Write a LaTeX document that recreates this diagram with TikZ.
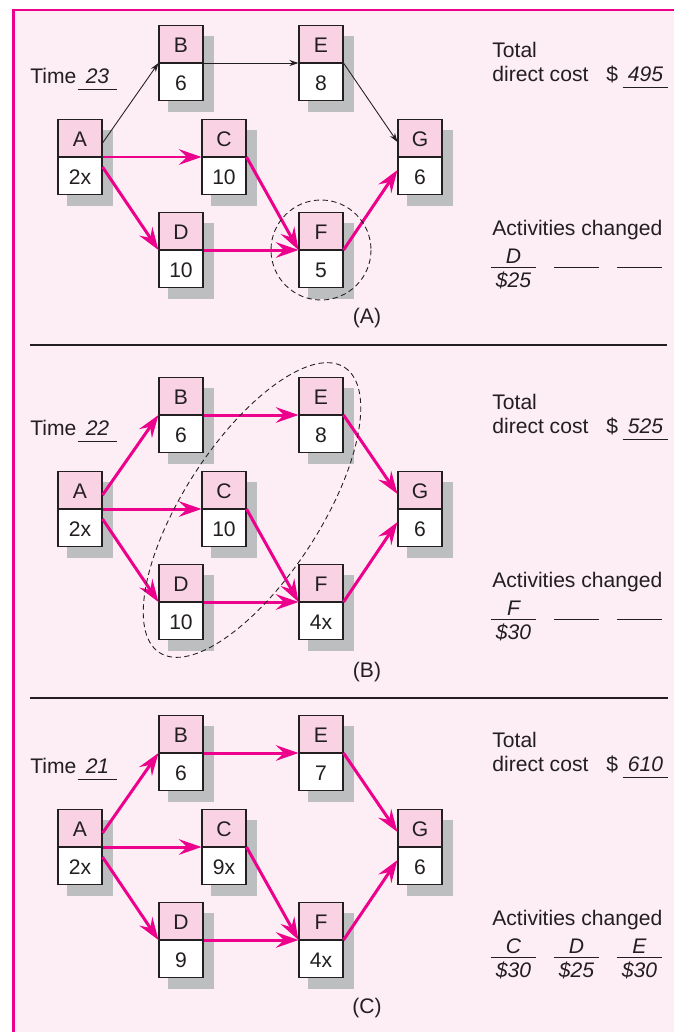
\documentclass[tikz,border=0pt]{standalone}
\usepackage{fontspec}
\setmainfont{Liberation Sans}
\usetikzlibrary{arrows.meta,backgrounds}
\definecolor{crit}{HTML}{EC008C}
\definecolor{panel}{HTML}{FDEDF4}
\definecolor{head}{HTML}{F9D3E4}
\definecolor{shadowgray}{HTML}{BCBEC0}
\definecolor{ink}{HTML}{231F20}

\begin{document}
\fontsize{12}{14}\selectfont
\begin{tikzpicture}[x=0.02cm, y=-0.02cm, text=ink,
  act/.style={draw=ink, line width=0.6pt, minimum width=0.88cm, inner xsep=0pt, inner ysep=0pt,
    text height=0.54cm, text depth=0.2cm},
  acthead/.style={act, fill=head, anchor=south},
  actdur/.style={act, fill=white, anchor=north},
  critarr/.style={-{Stealth[length=0.45cm,width=0.31cm,inset=0.16cm]}, crit, line width=1.7pt},
  thinarr/.style={-{Stealth[length=0.18cm,width=0.12cm]}, ink, line width=0.5pt},
  lbl/.style={inner sep=0pt, anchor=base west},
  slot/.style={inner sep=0pt, anchor=base, minimum width=0.9cm, font=\itshape},
  rule/.style={ink, line width=0.5pt},
  ring/.style={ink, line width=0.5pt, dash pattern=on 3pt off 2pt},
]
  \useasboundingbox (0,0) rectangle (674,1032);
  \begin{scope}[on background layer]
    \fill[panel] (12,9) rectangle (674,1032);
  \end{scope}
  \draw[crit, line width=1.7pt] (674,10) -- (13.5,10) -- (13.5,1032);

  % (A) time 23
  \node[acthead] (aA) at (80,157) {A};  \node[actdur] (aAd) at (aA.south) {2x};
  \node[acthead] (aB) at (181,63) {B};  \node[actdur] (aBd) at (aB.south) {6};
  \node[acthead] (aC) at (224,157) {C}; \node[actdur] (aCd) at (aC.south) {10};
  \node[acthead] (aD) at (181,250) {D}; \node[actdur] (aDd) at (aD.south) {10};
  \node[acthead] (aE) at (321,63) {E};  \node[actdur] (aEd) at (aE.south) {8};
  \node[acthead] (aF) at (321,250) {F}; \node[actdur] (aFd) at (aF.south) {5};
  \node[acthead] (aG) at (420,157) {G}; \node[actdur] (aGd) at (aG.south) {6};

  \draw[thinarr] ([yshift=0.28cm]aA.south east) -- (aB.south west);
  \draw[critarr] (aA.south east) -- (aC.south west);
  \draw[critarr] ([yshift=-0.2cm]aA.south east) -- (aD.south west);
  \draw[thinarr] (aB.south east) -- (aE.south west);
  \draw[critarr] (aC.south east) -- (aF.south west);
  \draw[critarr] (aD.south east) -- (aF.south west);
  \draw[thinarr] (aE.south east) -- ([yshift=0.3cm]aG.south west);
  \draw[critarr] (aF.south east) -- ([yshift=-0.26cm]aG.south west);
  \draw[ring] (aF.south) circle [radius=50];

  \node[lbl] (aTimeLbl) at (30,83) {Time};
  \node[slot, minimum width=0.78cm] (aTime) at (97.5,83) {23};
  \draw[rule] ([yshift=-0.12cm]aTime.base west) -- ([yshift=-0.12cm]aTime.base east);
  \node[lbl] (aTot) at (492,57) {Total};
  \node[lbl] (aDir) at (492,81) {direct cost};
  \node[lbl] (aDol) at (606,81) {\$};
  \node[slot] (aCost) at (645.5,81) {495};
  \draw[rule] ([yshift=-0.12cm]aCost.base west) -- ([yshift=-0.12cm]aCost.base east);
  \node[lbl] (aAct) at (492,235) {Activities changed};
  \node[slot] (aCh1) at (513.5,263) {D};
  \node[slot] (aCh1c) at (513.5,287) {\$25};
  \draw[rule] ([yshift=-0.08cm]aCh1.base west) -- ([yshift=-0.08cm]aCh1.base east);
  \draw[rule] (554,267) -- (599,267);
  \draw[rule] (617,267) -- (662,267);
  \node[anchor=base] (aCap) at (367,323) {(A)};

  \draw[rule, line width=0.6pt] (30,345) -- (667,345);

  % (B) time 22
  \node[acthead] (bA) at (80,509) {A};  \node[actdur] (bAd) at (bA.south) {2x};
  \node[acthead] (bB) at (181,415) {B}; \node[actdur] (bBd) at (bB.south) {6};
  \node[acthead] (bC) at (224,509) {C}; \node[actdur] (bCd) at (bC.south) {10};
  \node[acthead] (bD) at (181,602) {D}; \node[actdur] (bDd) at (bD.south) {10};
  \node[acthead] (bE) at (321,415) {E}; \node[actdur] (bEd) at (bE.south) {8};
  \node[acthead] (bF) at (321,602) {F}; \node[actdur] (bFd) at (bF.south) {4x};
  \node[acthead] (bG) at (420,509) {G}; \node[actdur] (bGd) at (bG.south) {6};

  \draw[critarr] ([yshift=0.28cm]bA.south east) -- (bB.south west);
  \draw[critarr] (bA.south east) -- (bC.south west);
  \draw[critarr] ([yshift=-0.2cm]bA.south east) -- (bD.south west);
  \draw[critarr] (bB.south east) -- (bE.south west);
  \draw[critarr] (bC.south east) -- (bF.south west);
  \draw[critarr] (bD.south east) -- (bF.south west);
  \draw[critarr] (bE.south east) -- ([yshift=0.3cm]bG.south west);
  \draw[critarr] (bF.south east) -- ([yshift=-0.26cm]bG.south west);
  \draw[ring, rotate around={57:(252,510)}] (252,510) ellipse [x radius=170, y radius=68];

  \node[lbl] (bTimeLbl) at (30,435) {Time};
  \node[slot, minimum width=0.78cm] (bTime) at (97.5,435) {22};
  \draw[rule] ([yshift=-0.12cm]bTime.base west) -- ([yshift=-0.12cm]bTime.base east);
  \node[lbl] (bTot) at (492,409) {Total};
  \node[lbl] (bDir) at (492,433) {direct cost};
  \node[lbl] (bDol) at (606,433) {\$};
  \node[slot] (bCost) at (645.5,433) {525};
  \draw[rule] ([yshift=-0.12cm]bCost.base west) -- ([yshift=-0.12cm]bCost.base east);
  \node[lbl] (bAct) at (492,587) {Activities changed};
  \node[slot] (bCh1) at (513.5,615) {F};
  \node[slot] (bCh1c) at (513.5,639) {\$30};
  \draw[rule] ([yshift=-0.08cm]bCh1.base west) -- ([yshift=-0.08cm]bCh1.base east);
  \draw[rule] (554,619) -- (599,619);
  \draw[rule] (617,619) -- (662,619);
  \node[anchor=base] (bCap) at (367,677) {(B)};

  \draw[rule, line width=0.6pt] (30,698) -- (668,698);

  % (C) time 21
  \node[acthead] (cA) at (80,847) {A};  \node[actdur] (cAd) at (cA.south) {2x};
  \node[acthead] (cB) at (181,753) {B}; \node[actdur] (cBd) at (cB.south) {6};
  \node[acthead] (cC) at (224,847) {C}; \node[actdur] (cCd) at (cC.south) {9x};
  \node[acthead] (cD) at (181,940) {D}; \node[actdur] (cDd) at (cD.south) {9};
  \node[acthead] (cE) at (321,753) {E}; \node[actdur] (cEd) at (cE.south) {7};
  \node[acthead] (cF) at (321,940) {F}; \node[actdur] (cFd) at (cF.south) {4x};
  \node[acthead] (cG) at (420,847) {G}; \node[actdur] (cGd) at (cG.south) {6};

  \draw[critarr] ([yshift=0.28cm]cA.south east) -- (cB.south west);
  \draw[critarr] (cA.south east) -- (cC.south west);
  \draw[critarr] ([yshift=-0.2cm]cA.south east) -- (cD.south west);
  \draw[critarr] (cB.south east) -- (cE.south west);
  \draw[critarr] (cC.south east) -- (cF.south west);
  \draw[critarr] (cD.south east) -- (cF.south west);
  \draw[critarr] (cE.south east) -- ([yshift=0.3cm]cG.south west);
  \draw[critarr] (cF.south east) -- ([yshift=-0.26cm]cG.south west);

  \node[lbl] (cTimeLbl) at (30,773) {Time};
  \node[slot, minimum width=0.78cm] (cTime) at (97.5,773) {21};
  \draw[rule] ([yshift=-0.12cm]cTime.base west) -- ([yshift=-0.12cm]cTime.base east);
  \node[lbl] (cTot) at (492,747) {Total};
  \node[lbl] (cDir) at (492,771) {direct cost};
  \node[lbl] (cDol) at (606,771) {\$};
  \node[slot] (cCost) at (645.5,771) {610};
  \draw[rule] ([yshift=-0.12cm]cCost.base west) -- ([yshift=-0.12cm]cCost.base east);
  \node[lbl] (cAct) at (492,925) {Activities changed};
  \node[slot] (cCh1) at (513.5,953) {C};
  \node[slot] (cCh1c) at (513.5,977) {\$30};
  \node[slot] (cCh2) at (576.5,953) {D};
  \node[slot] (cCh2c) at (576.5,977) {\$25};
  \node[slot] (cCh3) at (639.5,953) {E};
  \node[slot] (cCh3c) at (639.5,977) {\$30};
  \draw[rule] ([yshift=-0.08cm]cCh1.base west) -- ([yshift=-0.08cm]cCh1.base east);
  \draw[rule] ([yshift=-0.08cm]cCh2.base west) -- ([yshift=-0.08cm]cCh2.base east);
  \draw[rule] ([yshift=-0.08cm]cCh3.base west) -- ([yshift=-0.08cm]cCh3.base east);
  \node[anchor=base] (cCap) at (367,1013) {(C)};

  % box shadows
  \begin{scope}[on background layer]
    \foreach \n in {aA,aB,aC,aD,aE,aF,aG,bA,bB,bC,bD,bE,bF,bG,cA,cB,cC,cD,cE,cF,cG}
      \fill[shadowgray] ([shift={(0.2cm,-0.22cm)}]\n.north west) rectangle ([shift={(0.2cm,-0.22cm)}]\n d.south east);
  \end{scope}
\end{tikzpicture}
\end{document}
